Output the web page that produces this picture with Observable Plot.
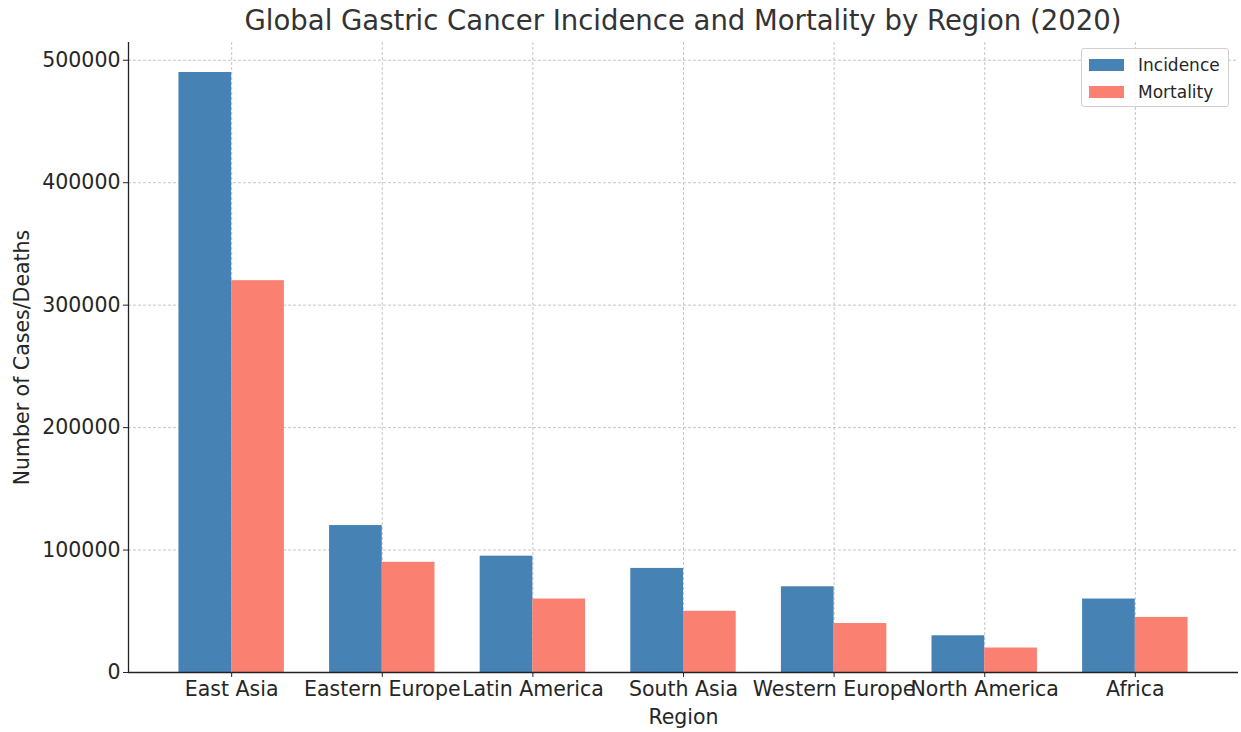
<!DOCTYPE html>
<html><head><meta charset="utf-8">
<script src="https://cdn.jsdelivr.net/npm/d3@7"></script>
<script src="https://cdn.jsdelivr.net/npm/@observablehq/plot@0.6"></script>
<style>
body{margin:0;background:#fff;font-family:"DejaVu Sans",sans-serif;}
#wrap{position:relative;width:1241px;height:732px;overflow:hidden;background:#fff;}
#title{position:absolute;left:128px;width:1110px;top:5px;line-height:30px;text-align:center;font-size:27.5px;color:#333;white-space:nowrap;}
#chart{position:absolute;left:0;top:42px;}
#legend{position:absolute;left:1081px;top:48px;width:146px;height:57px;border:1px solid #d0d0d0;border-radius:3px;background:rgba(255,255,255,0.85);font-size:17px;color:#262626;}
.item{position:absolute;left:7px;height:20px;line-height:20px;white-space:nowrap;}
.sw{display:inline-block;width:35px;height:12px;vertical-align:middle;margin-right:14px;position:relative;top:-1px;}
</style></head><body>
<div id="wrap">
<div id="title">Global Gastric Cancer Incidence and Mortality by Region (2020)</div>
<div id="chart"></div>
<div id="legend"></div>
</div>
<script>
const regions = ["East Asia","Eastern Europe","Latin America","South Asia","Western Europe","North America","Africa"];
const incidence = [490000,120000,95000,85000,70000,30000,60000];
const mortality = [320000,90000,60000,50000,40000,20000,45000];
const seriesNames = ["Incidence","Mortality"];
const seriesColors = ["#4682B4","#FA8072"];
const yTicks = [0,100000,200000,300000,400000,500000];

const barW = 0.35;
const rows = [];
regions.forEach((r,i)=>{
  rows.push({i, region:r, series:"Incidence", value:incidence[i], x1:i-barW, x2:i});
  rows.push({i, region:r, series:"Mortality", value:mortality[i], x1:i, x2:i+barW});
});
const xmin = -barW - 0.05*(regions.length-1+2*barW);
const xmax = regions.length-1+barW + 0.05*(regions.length-1+2*barW);
const ymax = d3.max([...incidence,...mortality])*1.05;
const idx = regions.map((_,i)=>i);

const chart = Plot.plot({
  width:1241, height:690,
  marginLeft:128, marginRight:3, marginTop:0, marginBottom:60,
  style:{fontFamily:"DejaVu Sans, sans-serif", fontSize:"20.5px", color:"#262626", background:"white"},
  x:{type:"linear", domain:[xmin,xmax]},
  y:{domain:[0,ymax]},
  color:{domain:seriesNames, range:seriesColors},
  marks:[
    Plot.gridX(idx,{stroke:"#b8b8b8", strokeOpacity:0.8, strokeDasharray:"3,2", strokeWidth:1}),
    Plot.gridY(yTicks,{stroke:"#b8b8b8", strokeOpacity:0.8, strokeDasharray:"3,2", strokeWidth:1}),
    Plot.rectY(rows,{x1:"x1", x2:"x2", y1:0, y2:"value", fill:"series"}),
    Plot.ruleX([xmin],{stroke:"#222", strokeWidth:1.3}),
    Plot.ruleY([0],{stroke:"#222", strokeWidth:1.3}),
    Plot.axisY({ticks:yTicks, tickFormat:d=>String(d), tickSize:5, tickPadding:3, fontSize:20.5, label:null}),
    Plot.axisX({ticks:idx, tickFormat:i=>regions[i], tickSize:5, tickPadding:4, fontSize:20.5, label:null}),
    Plot.text(["Region"],{frameAnchor:"bottom", lineAnchor:"top", dy:37, fontSize:20.5, fill:"#262626"}),
    Plot.text(["Number of Cases/Deaths"],{frameAnchor:"left", rotate:-90, dx:-106, textAnchor:"middle", lineAnchor:"middle", fontSize:20.5, fill:"#262626"})
  ]
});
document.getElementById("chart").appendChild(chart);

const leg = document.getElementById("legend");
seriesNames.forEach((s,k)=>{
  const it = document.createElement("div");
  it.className="item";
  it.style.top = (6 + k*27) + "px";
  it.innerHTML = `<span class="sw" style="background:${seriesColors[k]}"></span>${s}`;
  leg.appendChild(it);
});
</script>
</body></html>
